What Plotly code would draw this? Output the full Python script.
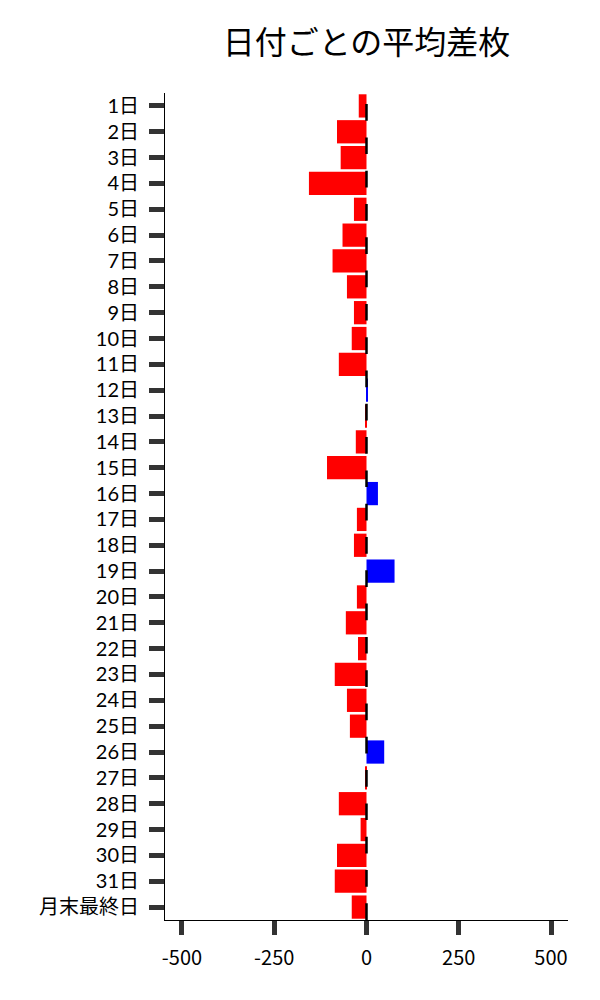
import plotly.graph_objects as go

days = [f"{i}日" for i in range(1, 32)] + ["月末最終日"]
avg_diff = [-21, -80, -70, -156, -34, -65, -92, -53, -34, -40, -75, 2, -2, -29, -107,
            31, -26, -34, 76, -26, -56, -23, -86, -53, -45, 48, -4, -75, -16, -80, -86, -40]

colors = ["#0000ff" if v > 0 else "#ff0000" for v in avg_diff]

fig = go.Figure()
fig.add_trace(go.Bar(
    x=avg_diff, y=days, orientation="h",
    marker=dict(color=colors, line=dict(width=0)),
    hoverinfo="x+y",
))

# dashed zero line drawn from the bottom of the plot upwards
fig.add_shape(type="line", x0=0, x1=0, xref="x", yref="paper", y0=0, y1=1,
              line=dict(color="black", width=2.5, dash="16.7px,16.6px"), layer="above")

font_family = "Noto Sans CJK JP"
ylabel_family = "Lato, Noto Sans CJK JP"
# page body has an 8px offset; margins compensate so the plot area lands at x 165-568, y 93-920
fig.update_layout(
    width=600, height=1000,
    margin=dict(l=157, r=40, t=85, b=88, autoexpand=False),
    paper_bgcolor="white", plot_bgcolor="white",
    bargap=0.1,
    showlegend=False,
    font=dict(family=font_family, color="black"),
    title=dict(text="日付ごとの平均差枚", x=0.5, xref="paper", xanchor="center",
               y=1 - 35 / 1000, yref="container", yanchor="middle",
               font=dict(family=font_family, size=32, color="black")),
    xaxis=dict(
        range=[-546, 546], tickvals=[-500, -250, 0, 250, 500],
        ticktext=["-500", "-250", "0", "250", "500"],
        showgrid=False, zeroline=False,
        showline=True, linecolor="black", linewidth=1,
        ticks="outside", ticklen=14, tickwidth=5, tickcolor="#333333",
        tickfont=dict(family=font_family, size=20, color="black"),
        ticklabelstandoff=6,
        automargin=False,
    ),
    yaxis=dict(
        autorange="reversed", type="category",
        showgrid=False, zeroline=False,
        showline=True, linecolor="black", linewidth=1,
        ticks="outside", ticklen=15, tickwidth=5, tickcolor="#333333",
        tickfont=dict(family=ylabel_family, size=20, color="black"),
        ticklabelstandoff=6,
        automargin=False,
    ),
)

fig.write_html("out.html")
